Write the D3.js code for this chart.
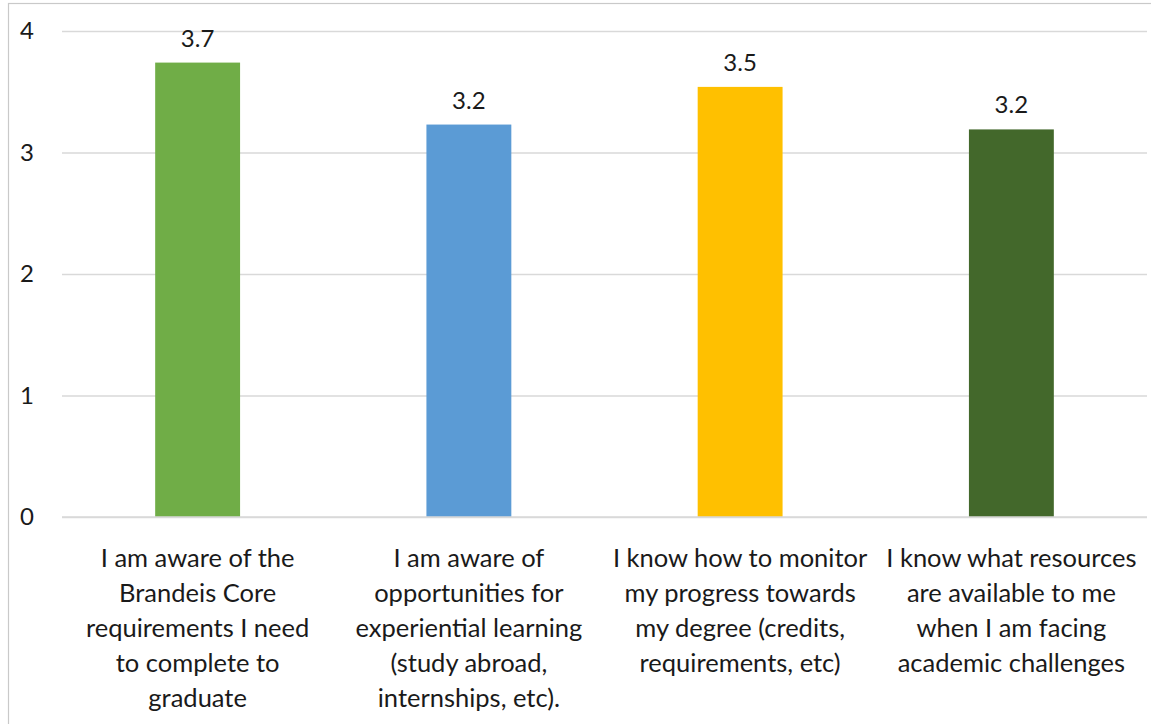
<!DOCTYPE html>
<html>
<head>
<meta charset="utf-8">
<script src="https://cdn.jsdelivr.net/npm/d3@7"></script>
<style>
  html, body { margin: 0; padding: 0; background: #fff; }
  svg { display: block; }
  text { font-family: Lato, "Open Sans", sans-serif; fill: #1a1a1a; }
</style>
</head>
<body>
<svg id="chart" width="1151" height="724"></svg>
<script>
const categories = [
  ["I am aware of the", "Brandeis Core", "requirements I need", "to complete to", "graduate"],
  ["I am aware of", "opportunities for", "experiential learning", "(study abroad,", "internships, etc)."],
  ["I know how to monitor", "my progress towards", "my degree (credits,", "requirements, etc)"],
  ["I know what resources", "are available to me", "when I am facing", "academic challenges"]
];
const values = [3.74, 3.23, 3.54, 3.19];
const colors = ["#70AD47", "#5B9BD5", "#FFC000", "#43682B"];
const yTicks = [0, 1, 2, 3, 4];

const svg = d3.select("#chart");
const W = 1151, H = 724;
const mLeft = 62, mRight = 1147, mTop = 31, mBottom = 517;

svg.append("rect").attr("x", 8.5).attr("y", 3.5).attr("width", W).attr("height", H)
  .attr("fill", "none").attr("stroke", "#c9c9c9").attr("stroke-width", 1.2);

const x = d3.scaleBand().domain(d3.range(categories.length)).range([mLeft, mRight])
  .paddingInner(0.687).paddingOuter(0.3435);
const y = d3.scaleLinear().domain([0, 4]).range([mBottom, mTop]);

// gridlines
const yAxis = d3.axisLeft(y).tickValues(yTicks).tickSize(-(mRight - mLeft)).tickFormat(d3.format("d")).tickPadding(28);
const gy = svg.append("g").attr("transform", `translate(${mLeft},0)`).call(yAxis);
gy.select(".domain").remove();
gy.selectAll(".tick line").attr("stroke", "#d9d9d9").attr("stroke-width", 1.3);
gy.selectAll(".tick text").attr("font-size", 24).attr("fill", "#1a1a1a");

// bars
svg.append("g").selectAll("rect").data(values).join("rect")
  .attr("x", (d, i) => x(i))
  .attr("y", d => y(d))
  .attr("width", x.bandwidth())
  .attr("height", d => y(0) - y(d))
  .attr("fill", (d, i) => colors[i]);

// redraw zero line over bars
svg.append("line").attr("x1", mLeft).attr("x2", mRight).attr("y1", y(0)).attr("y2", y(0))
  .attr("stroke", "#d9d9d9").attr("stroke-width", 1.3);

// value labels
svg.append("g").selectAll("text").data(values).join("text")
  .attr("x", (d, i) => x(i) + x.bandwidth() / 2)
  .attr("y", d => y(d) - 16)
  .attr("text-anchor", "middle")
  .attr("font-size", 24)
  .text(d => d3.format(".1f")(d));

// category labels
const cg = svg.append("g").selectAll("text").data(categories).join("text")
  .attr("text-anchor", "middle")
  .attr("font-size", 25.5);
cg.each(function(lines, i) {
  const t = d3.select(this);
  lines.forEach((ln, j) => {
    t.append("tspan").attr("x", x(i) + x.bandwidth() / 2).attr("y", 567 + j * 35).text(ln);
  });
});
</script>
</body>
</html>
